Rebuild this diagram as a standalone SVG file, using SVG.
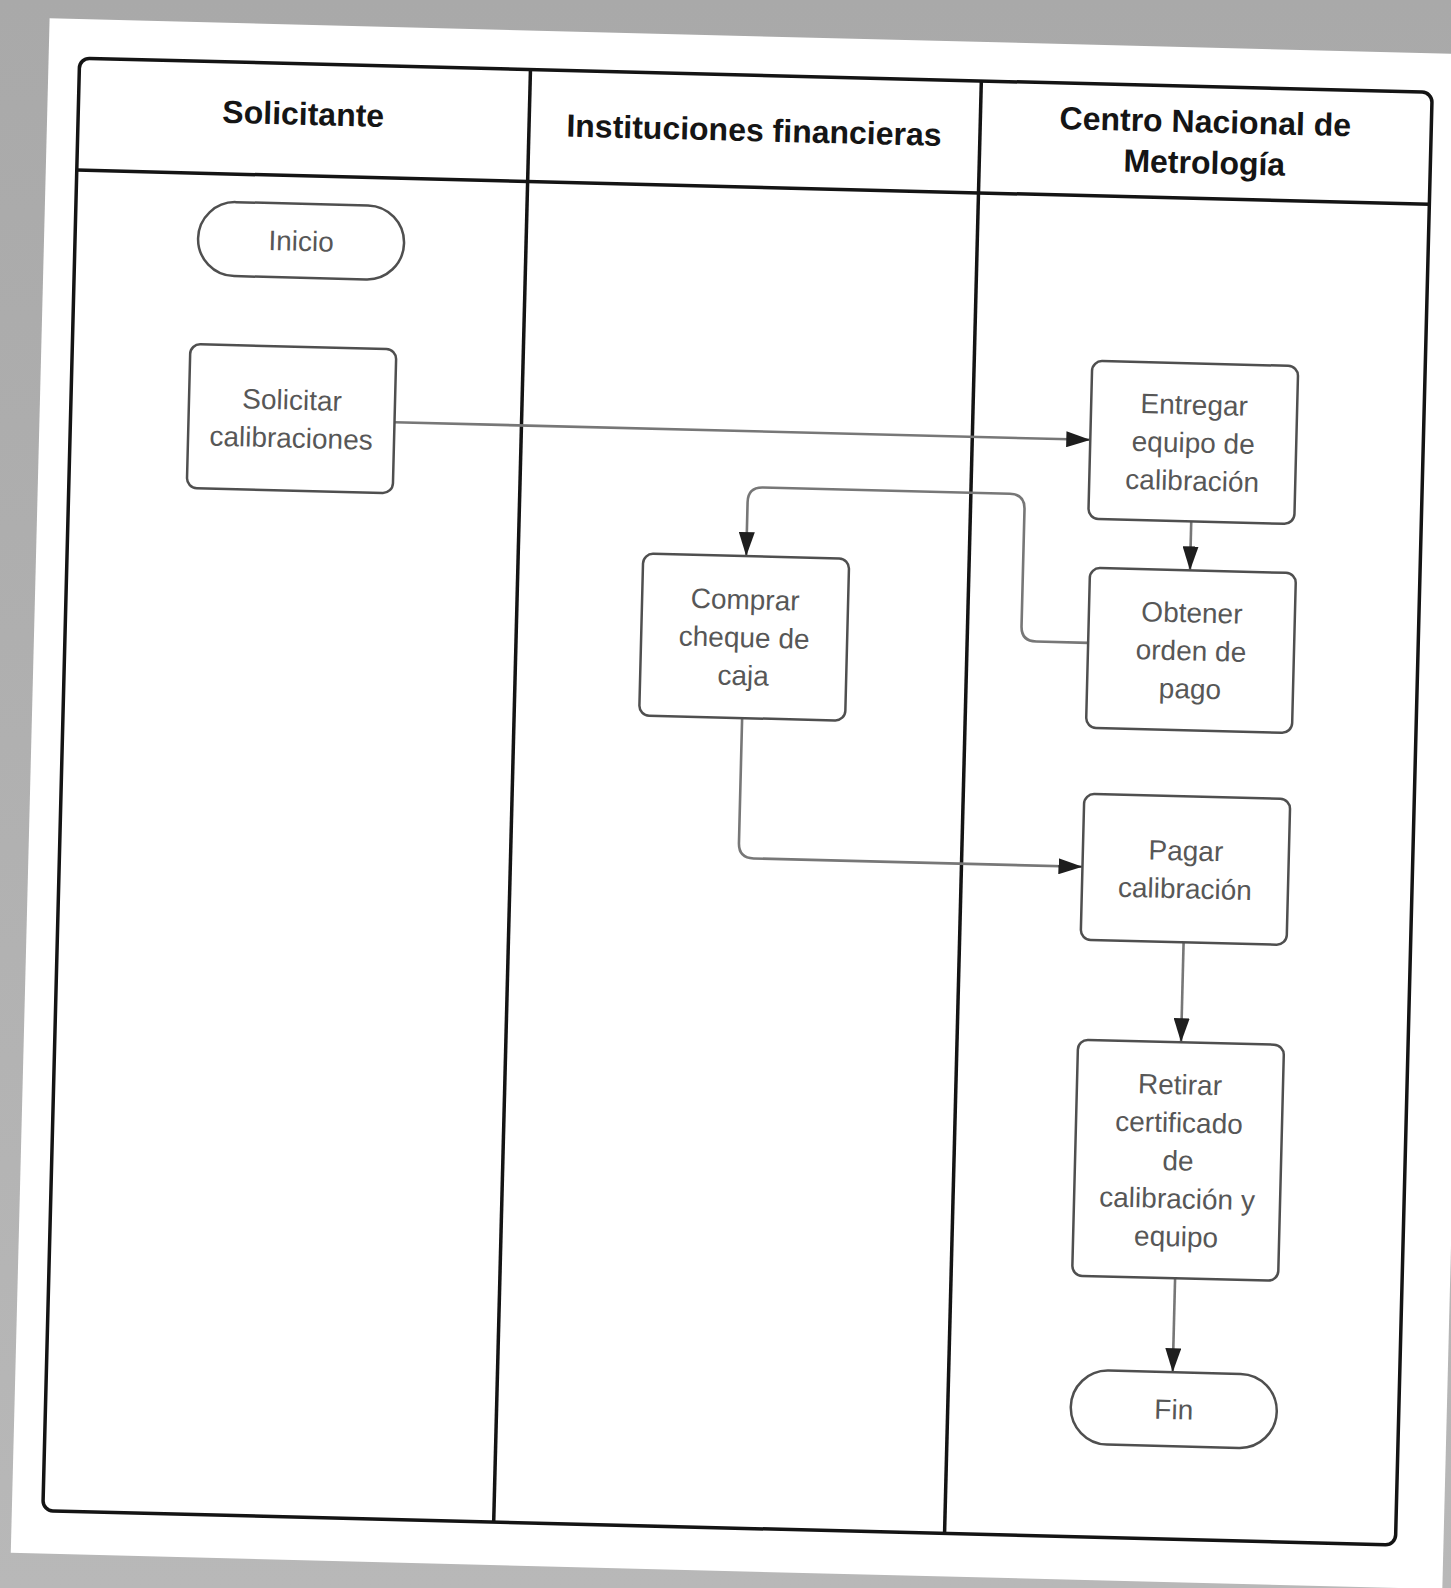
<svg xmlns="http://www.w3.org/2000/svg" width="1451" height="1588" viewBox="0 0 1451 1588">
  <style>
    .lane { fill: none; stroke: #141414; stroke-width: 3.5; }
    .head { font-family: "Liberation Sans", Arial, sans-serif; font-weight: bold; font-size: 32px; fill: #151515; text-anchor: middle; }
    .box { fill: #ffffff; stroke: #4f4f4f; stroke-width: 2.5; }
    .lbl { font-family: "Liberation Sans", Arial, sans-serif; font-size: 28px; fill: #575757; text-anchor: middle; }
    .edge { fill: none; stroke: #777777; stroke-width: 2.6; }
  </style>
  <defs>
    <marker id="arrow" markerUnits="userSpaceOnUse" markerWidth="24" markerHeight="16" refX="24" refY="8" orient="auto">
      <path d="M0,0 L24,8 L0,16 z" fill="#1e1e1e"/>
    </marker>
    <linearGradient id="shade" x1="0" y1="0" x2="0" y2="1">
      <stop offset="0" stop-color="#a9a9a9"/>
      <stop offset="1" stop-color="#b8b8b8"/>
    </linearGradient>
  </defs>

  <!-- backdrop around the sheet -->
  <rect x="0" y="0" width="1451" height="1588" fill="url(#shade)"/>

  <g transform="rotate(1.45 737 802)">
    <!-- sheet -->
    <rect x="30" y="36" width="1432" height="1535" fill="#ffffff"/>

    <!-- swimlane frame -->
    <g id="lanes">
      <rect class="lane" x="61" y="75" width="1353" height="1453" rx="10"/>
      <line class="lane" x1="61" y1="187" x2="1414" y2="187"/>
      <line class="lane" x1="512" y1="75" x2="512" y2="1528" stroke-width="3"/>
      <line class="lane" x1="963" y1="75" x2="963" y2="1528" stroke-width="3"/>
      <text class="head" x="286" y="136">Solicitante</text>
      <text class="head" x="737" y="141">Instituciones financieras</text>
      <text class="head" x="1188" y="121">Centro Nacional de</text>
      <text class="head" x="1188" y="162">Metrología</text>
    </g>

    <!-- connectors -->
    <g id="connectors">
      <path class="edge" d="M385,431 H1081" marker-end="url(#arrow)"/>
      <path class="edge" d="M1184,510 V559" marker-end="url(#arrow)"/>
      <path class="edge" d="M1084,634 H1032 Q1017,634 1017,619 V502 Q1017,487 1002,487 H755 Q740,487 740,502 V556" marker-end="url(#arrow)"/>
      <path class="edge" d="M740,718 V843 Q740,858 755,858 H1084" marker-end="url(#arrow)"/>
      <path class="edge" d="M1187,931 V1031" marker-end="url(#arrow)"/>
      <path class="edge" d="M1187,1267 V1361" marker-end="url(#arrow)"/>
    </g>

    <g id="inicio">
      <rect class="box" x="184" y="215" width="206" height="74" rx="37"/>
      <text class="lbl" x="287" y="262">Inicio</text>
    </g>

    <g id="solicitar">
      <rect class="box" x="179" y="358" width="206" height="144" rx="10"/>
      <text class="lbl" x="282" y="421">Solicitar</text>
      <text class="lbl" x="282" y="459">calibraciones</text>
    </g>

    <g id="entregar">
      <rect class="box" x="1081" y="352" width="206" height="158" rx="10"/>
      <text class="lbl" x="1184" y="403">Entregar</text>
      <text class="lbl" x="1184" y="441">equipo de</text>
      <text class="lbl" x="1184" y="479">calibración</text>
    </g>

    <g id="obtener">
      <rect class="box" x="1084" y="559" width="206" height="160" rx="10"/>
      <text class="lbl" x="1187" y="611">Obtener</text>
      <text class="lbl" x="1187" y="649">orden de</text>
      <text class="lbl" x="1187" y="687">pago</text>
    </g>

    <g id="comprar">
      <rect class="box" x="637" y="556" width="206" height="162" rx="10"/>
      <text class="lbl" x="740" y="609">Comprar</text>
      <text class="lbl" x="740" y="647">cheque de</text>
      <text class="lbl" x="740" y="685">caja</text>
    </g>

    <g id="pagar">
      <rect class="box" x="1084" y="785" width="206" height="146" rx="10"/>
      <text class="lbl" x="1187" y="849">Pagar</text>
      <text class="lbl" x="1187" y="887">calibración</text>
    </g>

    <g id="retirar">
      <rect class="box" x="1084" y="1031" width="206" height="236" rx="10"/>
      <text class="lbl" x="1187" y="1083">Retirar</text>
      <text class="lbl" x="1187" y="1121">certificado</text>
      <text class="lbl" x="1187" y="1159">de</text>
      <text class="lbl" x="1187" y="1197">calibración y</text>
      <text class="lbl" x="1187" y="1235">equipo</text>
    </g>

    <g id="fin">
      <rect class="box" x="1086" y="1361" width="206" height="74" rx="37"/>
      <text class="lbl" x="1189" y="1408">Fin</text>
    </g>
  </g>
</svg>
